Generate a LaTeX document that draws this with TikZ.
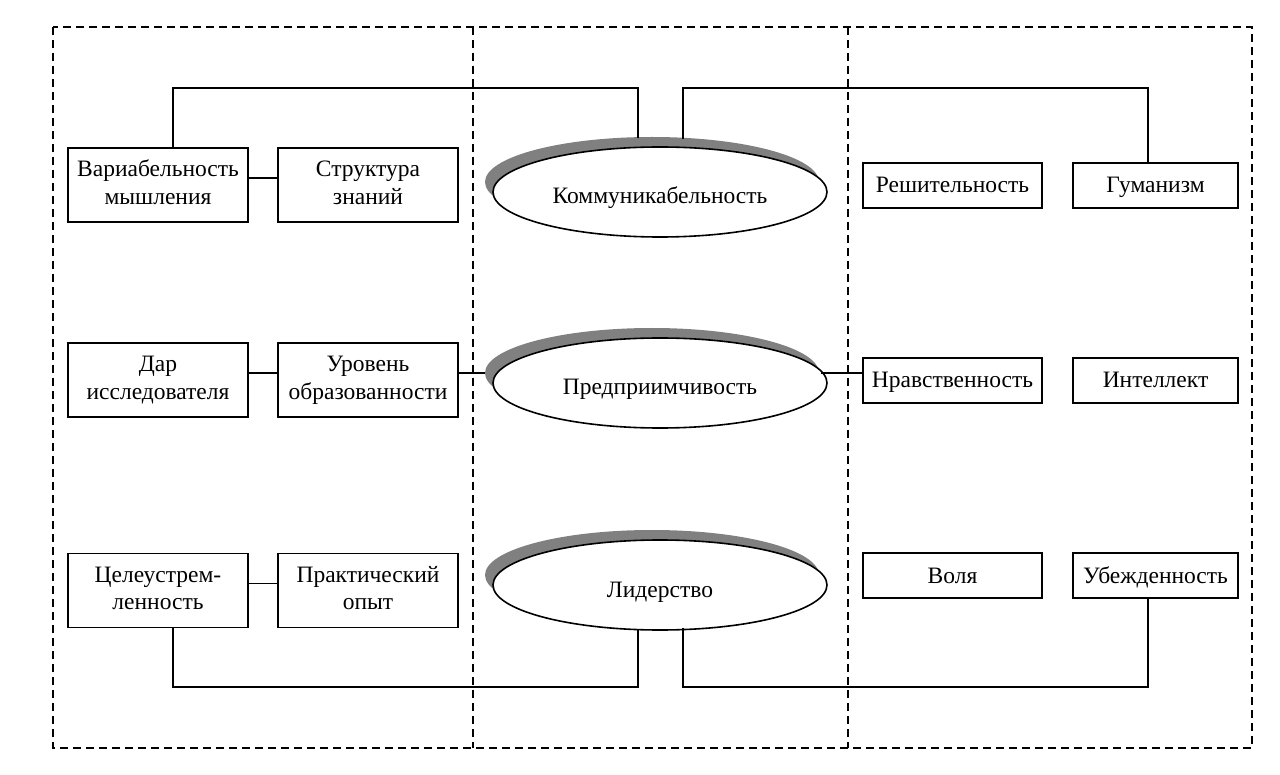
\documentclass[tikz,border=0pt]{standalone}
\usepackage{fontspec}
\setmainfont{Liberation Serif}
\usetikzlibrary{shapes.geometric}
\definecolor{shadowgray}{HTML}{808080}
\begin{document}
\begin{tikzpicture}[x=1pt,y=-1pt,
  txt/.style={font=\fontsize{23.5}{27.6}\selectfont},
  lbox/.style={txt,draw,line width=1.6pt,minimum width=180pt,minimum height=74pt,text height=42pt,text depth=3.4pt,align=center,inner sep=0pt},
  rbox/.style={txt,draw,line width=1.6pt,minimum height=45pt,text height=16pt,text depth=1pt,align=center,inner sep=0pt},
  oval/.style={txt,ellipse,draw,fill=white,line width=1.6pt,minimum width=334pt,minimum height=90pt,text height=24pt,text depth=0pt,inner sep=0pt},
  shade/.style={ellipse,fill=shadowgray,minimum width=334pt,minimum height=90pt,inner sep=0pt},
  frame/.style={line width=1.6pt,dash pattern=on 8pt off 5pt},
  link/.style={line width=1.6pt}]
\useasboundingbox (0,0) rectangle (1280,775);
% frame
\draw[frame] (53,27) rectangle (1252,748);
\draw[frame] (473,27) -- (473,748);
\draw[frame] (848,27) -- (848,748);
% left boxes
\node[lbox] (b11) at (158,185) {Вариабельность\\мышления};
\node[lbox] (b12) at (368,185) {Структура\\знаний};
\node[lbox] (b21) at (158,380) {Дар\\исследователя};
\node[lbox] (b22) at (368,380) {Уровень\\образованности};
\node[lbox] (b31) at (158,590.5) {Целеустрем-\\ленность};
\node[lbox] (b32) at (368,590.5) {Практический\\опыт};
% right boxes
\node[rbox,minimum width=179pt] (r11) at (952.5,185.5) {Решительность};
\node[rbox,minimum width=165pt] (r12) at (1155.5,185.5) {Гуманизм};
\node[rbox,minimum width=179pt] (r21) at (952.5,380.5) {Нравственность};
\node[rbox,minimum width=165pt] (r22) at (1155.5,380.5) {Интеллект};
\node[rbox,minimum width=179pt] (r31) at (952.5,575.5) {Воля};
\node[rbox,minimum width=165pt] (r32) at (1155.5,575.5) {Убежденность};
% ellipses with shadows
\node[shade] (s1) at (652,182) {};
\node[oval] (e1) at (660,192) {Коммуникабельность};
\node[shade] (s2) at (652,373) {};
\node[oval] (e2) at (660,383) {Предприимчивость};
\node[shade] (s3) at (652,575) {};
\node[oval] (e3) at (660,585) {Лидерство};
% coordinates
\coordinate (t1) at (638,138);
\coordinate (t2) at (683,139);
\coordinate (u1) at (638,629);
\coordinate (u2) at (683,628);
% connectors
\draw[link] ([xshift=15pt]b11.north) |- (t1 |- 0,88) -- (t1);
\draw[link] (t2) -- (t2 |- 0,88) -| ([xshift=-7.5pt]r12.north);
\draw[link] ([xshift=15pt]b31.south) |- (u1 |- 0,687) -- (u1);
\draw[link] (u2) -- (u2 |- 0,687) -| ([xshift=-7.5pt]r32.south);
\draw[link] ([yshift=7pt]b11.east) -- ([yshift=7pt]b12.west);
\draw[link] ([yshift=7pt]b21.east) -- ([yshift=7pt]b22.west);
\draw[link] ([yshift=7pt]b22.east) -- ([yshift=7pt]b22.east -| s2.west);
\draw[link] ([yshift=7.5pt]r21.west) -- ([yshift=7.5pt,xshift=-41pt]r21.west);
\draw[link] ([yshift=7pt]b31.east) -- ([yshift=7pt]b32.west);
\end{tikzpicture}
\end{document}
